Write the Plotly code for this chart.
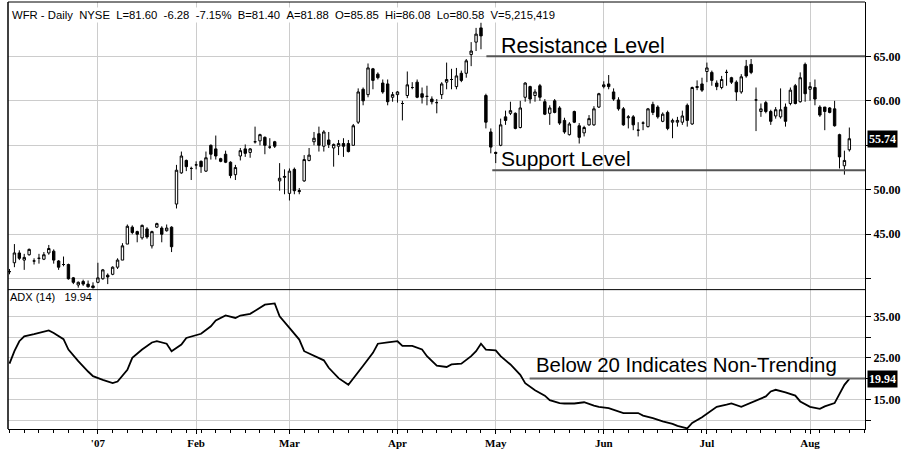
import plotly.graph_objects as go

# ---------------- data ----------------
opens = [40.8, 41.8, 42.9, 42.1, 42.7, 42.0, 42.3, 42.2, 42.9, 43.1, 42.0, 41.6, 41.6, 40.1, 39.3, 39.7, 39.4, 39.2,
         39.6, 40.0, 40.4, 40.5, 41.3, 42.1, 43.9, 45.8, 45.3, 44.6, 45.6, 43.7, 45.8, 45.7, 45.4, 45.8, 48.4, 51.9,
         53.3, 52.4, 52.8, 53.2, 52.1, 55.0, 54.6, 53.5, 54.0, 53.1, 51.7, 53.8, 54.6, 54.2, 55.4, 55.5, 55.9, 54.8,
         55.4, 51.0, 51.4, 49.6, 52.3, 49.8, 51.0, 53.3, 55.4, 56.3, 54.9, 55.6, 54.7, 54.9, 55.2, 55.2, 55.0, 57.6,
         61.3, 60.7, 63.6, 63.0, 62.0, 61.9, 60.4, 60.7, 59.7, 60.6, 61.5, 62.1, 60.8, 60.5, 60.2, 59.8, 60.7, 62.1,
         62.4, 61.6, 63.1, 63.1, 65.2, 66.6, 68.2, 60.6, 56.5, 54.2, 55.0, 58.2, 58.6, 58.6, 57.0, 60.4, 61.6, 60.6,
         61.7, 59.9, 58.6, 60.0, 59.2, 57.8, 56.2, 58.8, 57.2, 56.4, 57.3, 57.3, 59.3, 61.6, 61.9, 61.0, 60.1, 59.1,
         58.1, 58.2, 56.7, 57.5, 57.1, 59.6, 59.3, 57.7, 58.7, 57.6, 57.6, 57.6, 59.5, 57.4, 61.5, 61.9, 63.3, 63.2,
         62.0, 61.5, 63.2, 62.6, 62.1, 61.0, 63.9, 64.1, 60.1, 58.8, 59.8, 58.8, 58.3, 58.2, 59.3, 59.7, 61.7, 59.9,
         64.1, 61.3, 61.5, 59.3, 59.3, 59.2, 59.1, 56.2, 52.7, 54.5]
highs = [41.1, 43.9, 43.2, 42.8, 43.4, 42.3, 42.8, 43.0, 43.8, 43.3, 42.1, 42.5, 41.7, 40.2, 39.7, 39.9, 39.8, 39.6,
         41.8, 41.1, 40.6, 41.4, 42.3, 44.0, 46.1, 46.0, 45.4, 46.1, 45.8, 45.4, 46.3, 45.9, 46.1, 45.9, 52.8, 54.3,
         53.4, 52.6, 53.2, 53.3, 54.3, 55.1, 56.1, 53.6, 54.4, 53.2, 52.8, 54.7, 55.1, 54.7, 57.1, 56.3, 56.0, 55.8,
         55.5, 53.0, 52.3, 52.4, 52.5, 50.2, 53.9, 54.7, 56.5, 57.1, 56.7, 56.5, 55.2, 55.6, 55.8, 55.6, 57.4, 61.4,
         61.5, 64.2, 63.7, 63.2, 62.4, 62.4, 61.0, 61.1, 60.0, 63.3, 62.1, 62.4, 61.5, 61.7, 60.5, 60.2, 62.1, 64.3,
         63.6, 63.7, 63.4, 64.7, 66.6, 68.2, 68.8, 60.8, 56.9, 54.3, 58.0, 58.9, 59.9, 58.7, 60.0, 62.1, 61.7, 61.3,
         61.9, 60.2, 59.5, 60.2, 59.4, 58.1, 57.6, 58.9, 57.5, 57.2, 58.4, 59.4, 60.9, 62.2, 62.9, 61.4, 60.4, 59.3,
         58.4, 58.4, 57.6, 57.7, 59.2, 59.9, 59.5, 58.7, 58.9, 58.0, 58.2, 58.9, 59.7, 61.6, 62.3, 62.6, 64.3, 63.4,
         62.3, 62.8, 63.5, 62.7, 62.3, 63.0, 64.6, 64.7, 61.5, 59.7, 60.0, 59.0, 59.3, 61.4, 59.7, 61.5, 61.9, 63.2,
         64.3, 62.1, 62.4, 59.5, 59.3, 59.3, 60.0, 56.3, 54.4, 57.0]
lows = [40.5, 41.3, 42.1, 41.0, 42.6, 41.6, 41.7, 42.1, 42.7, 41.7, 41.0, 41.4, 39.9, 39.4, 39.0, 39.2, 39.0, 38.9,
        39.5, 39.9, 39.4, 40.4, 41.1, 42.1, 43.9, 45.0, 44.1, 44.4, 44.5, 43.4, 45.7, 44.1, 45.3, 43.0, 47.9, 51.8,
        52.1, 51.1, 52.3, 51.9, 52.0, 53.4, 53.4, 53.1, 53.0, 51.3, 51.1, 53.3, 53.7, 53.6, 55.2, 55.0, 54.0, 54.6,
        54.7, 49.9, 49.5, 48.8, 49.5, 49.5, 50.9, 53.2, 55.0, 54.3, 54.3, 54.7, 52.6, 53.9, 53.7, 54.2, 55.0, 57.4,
        59.5, 60.4, 61.3, 62.4, 60.8, 59.5, 59.9, 59.8, 57.8, 60.3, 61.3, 60.3, 59.7, 59.5, 59.6, 58.6, 60.2, 61.3,
        61.3, 61.3, 62.1, 62.6, 63.9, 65.6, 65.8, 56.9, 54.1, 53.0, 54.9, 57.3, 58.4, 56.8, 56.9, 59.9, 59.7, 59.9,
        60.0, 58.4, 57.3, 58.6, 57.3, 56.3, 56.1, 57.5, 55.2, 56.0, 57.2, 57.2, 59.2, 61.4, 61.3, 60.0, 58.9, 57.2,
        56.9, 56.7, 56.0, 56.7, 57.0, 58.4, 58.0, 57.6, 56.7, 55.8, 57.1, 57.3, 57.1, 57.3, 61.2, 61.0, 62.1, 61.7,
        61.2, 61.3, 61.7, 61.9, 60.0, 60.8, 62.6, 63.0, 56.6, 58.2, 58.6, 57.3, 58.0, 58.0, 57.1, 59.5, 59.6, 59.8,
        59.9, 60.0, 59.5, 58.2, 56.7, 58.6, 57.1, 52.4, 51.7, 54.3]
closes = [40.8, 42.9, 42.3, 42.4, 43.3, 42.0, 42.3, 42.7, 43.4, 42.1, 41.3, 41.6, 40.0, 39.6, 39.6, 39.4, 39.1, 39.0,
          40.1, 41.0, 40.2, 41.3, 42.1, 43.7, 45.9, 45.2, 45.0, 46.0, 44.7, 45.3, 46.2, 45.0, 45.7, 43.6, 52.2, 53.8,
          52.6, 52.4, 52.8, 52.6, 53.6, 54.0, 53.8, 53.2, 53.1, 51.6, 52.5, 54.4, 54.1, 54.6, 55.4, 56.2, 55.0, 54.8,
          54.9, 51.3, 51.5, 52.1, 49.9, 49.9, 53.4, 53.9, 55.8, 55.0, 56.5, 55.1, 55.1, 55.2, 54.9, 54.3, 57.2, 61.0,
          60.0, 63.7, 62.3, 62.6, 61.0, 59.9, 60.7, 61.0, 59.7, 61.8, 61.5, 60.4, 60.4, 60.5, 59.9, 59.8, 61.9, 62.4,
          62.4, 62.8, 62.3, 64.5, 65.6, 67.5, 67.3, 57.6, 54.8, 54.1, 57.3, 57.8, 58.9, 56.9, 59.2, 62.0, 60.2, 61.0,
          60.4, 58.5, 59.2, 58.7, 57.5, 56.5, 57.4, 57.6, 55.9, 57.0, 58.0, 59.1, 60.8, 61.8, 61.6, 60.2, 59.1, 57.3,
          58.2, 57.3, 56.7, 57.5, 59.1, 58.7, 58.2, 58.5, 56.9, 57.8, 57.8, 58.3, 57.8, 61.5, 61.6, 61.2, 63.7, 62.3,
          61.6, 62.4, 63.2, 62.1, 61.0, 62.7, 62.8, 63.2, 60.1, 59.1, 58.8, 57.7, 59.0, 59.0, 57.7, 61.2, 59.7, 62.6,
          60.8, 61.6, 60.2, 58.4, 58.8, 58.7, 57.2, 53.7, 53.3, 55.74]
day_index = list(range(len(closes)))

adx_day = [0, 1, 2, 3, 5, 6, 8, 9, 11, 12, 14, 16, 17, 19, 21, 22, 24, 25, 27, 29, 30, 32, 33, 35, 36, 39, 41, 42,
           44, 46, 47, 49, 51, 52, 54, 55, 57, 59, 60, 62, 64, 65, 67, 69, 70, 72, 74, 75, 77, 79, 80, 82, 84, 85,
           87, 89, 90, 92, 94, 95, 96, 97, 99, 100, 102, 104, 105, 107, 109, 110, 112, 113, 115, 117, 119, 120, 122,
           124, 125, 128, 129, 131, 133, 135, 136, 138, 139, 141, 143, 144, 146, 147, 149, 150, 152, 154, 155, 156,
           158, 160, 161, 163, 165, 166, 168, 169, 170, 171]
adx_value = [23.6, 26.6, 29.0, 30.2, 30.7, 31.0, 31.6, 31.0, 29.5, 27.0, 24.2, 21.7, 20.6, 19.7, 18.9, 19.3, 22.1,
             25.0, 27.0, 28.7, 29.0, 28.4, 26.6, 28.2, 29.8, 30.8, 32.6, 34.0, 35.2, 34.6, 35.2, 35.6, 37.0, 37.8,
             38.1, 35.0, 32.2, 29.4, 26.6, 25.4, 24.4, 22.6, 20.1, 18.5, 20.1, 23.1, 26.2, 28.4, 28.7, 29.0, 27.9,
             27.9, 27.0, 25.4, 23.1, 22.8, 23.4, 23.6, 25.4, 26.6, 28.4, 27.0, 26.8, 25.4, 23.4, 20.9, 18.9, 17.2,
             15.9, 14.8, 14.1, 14.0, 14.0, 14.3, 13.5, 13.2, 12.9, 12.1, 11.7, 11.7, 11.1, 10.5, 9.7, 9.1, 8.6, 8.0,
             9.3, 10.7, 12.5, 13.2, 13.7, 14.0, 13.2, 13.7, 14.8, 15.7, 16.9, 17.3, 16.7, 15.9, 14.5, 13.2, 12.7,
             13.3, 14.1, 16.5, 18.5, 19.94]

month_index = [18, 38, 57, 79, 99, 121, 142, 163]
month_labels = ["'07", "Feb", "Mar", "Apr", "May", "Jun", "Jul", "Aug"]

price_ticks = [40, 45, 50, 55, 60, 65]
price_tick_text = ["", "45.00", "50.00", "", "60.00", "65.00"]
adx_ticks = [10, 15, 20, 25, 30, 35]
adx_tick_text = ["", "15.00", "", "25.00", "", "35.00"]

resistance_level = 65.0
support_level = 52.2
adx_threshold = 20.0
last_close = 55.74
last_adx = 19.94

header = ("WFR - Daily  NYSE  L=81.60  -6.28  -7.15%  B=81.40  A=81.88  O=85.85  "
          "Hi=86.08  Lo=80.58  V=5,215,419").replace(" ", "\u00a0")

# ---------------- figure ----------------
W, H = 902, 451
ML, MR, MT, MB = 8, 36, 2, 17
split = 141 / 432
XR = [-0.305, 174.19]
GRID = "#cccccc"

fig = go.Figure()
fig.add_trace(go.Candlestick(
    x=day_index, open=opens, high=highs, low=lows, close=closes,
    xaxis="x", yaxis="y", whiskerwidth=0,
    increasing=dict(line=dict(color="black", width=1), fillcolor="white"),
    decreasing=dict(line=dict(color="black", width=1), fillcolor="black"),
    showlegend=False, hoverinfo="skip"))
fig.add_trace(go.Scatter(
    x=adx_day, y=adx_value, xaxis="x2", yaxis="y2", mode="lines",
    line=dict(color="black", width=1.8), showlegend=False, hoverinfo="skip"))

serif = "Liberation Serif, Times New Roman, serif"
sans = "Liberation Sans, Arial, sans-serif"

fig.update_layout(
    width=W, height=H, margin=dict(l=ML, r=MR, t=MT, b=MB),
    paper_bgcolor="white", plot_bgcolor="white", showlegend=False,
    xaxis=dict(domain=[0, 1], anchor="y", range=XR, rangeslider=dict(visible=False),
               tickvals=month_index, showticklabels=False, ticks="",
               showgrid=True, gridcolor=GRID, gridwidth=1, zeroline=False, showline=False),
    yaxis=dict(domain=[split, 1], anchor="x", range=[38.778, 71.111], side="right",
               tickvals=price_ticks, ticktext=price_tick_text, ticks="outside", ticklen=5,
               tickcolor="black", tickfont=dict(family=serif, size=12, color="black", weight="bold"),
               showgrid=True, gridcolor=GRID, zeroline=False, showline=True, linecolor="black",
               linewidth=1),
    xaxis2=dict(domain=[0, 1], anchor="y2", range=XR, tickvals=month_index, ticktext=month_labels,
                ticks="outside", ticklen=4, tickcolor="black",
                tickfont=dict(family=serif, size=11, color="black", weight="bold"),
                minor=dict(ticks="outside", ticklen=3, tickcolor="black", dtick=3, tick0=0, showgrid=False),
                showgrid=True, gridcolor=GRID, zeroline=False, showline=True, linecolor="black"),
    yaxis2=dict(domain=[0, split], anchor="x2", range=[7.857, 41.429], side="right",
                tickvals=adx_ticks, ticktext=adx_tick_text, ticks="outside", ticklen=5,
                tickcolor="black", tickfont=dict(family=serif, size=12, color="black", weight="bold"),
                showgrid=True, gridcolor=GRID, zeroline=False, showline=True, linecolor="black"),
)

def px_x(p):
    return (p - ML) / (W - ML - MR)

def px_y(p):
    return (H - MB - p) / (H - MT - MB)

shapes = [
    dict(type="line", xref="paper", yref="paper", x0=0, x1=0, y0=0, y1=1, line=dict(color="black", width=1.5)),
    dict(type="line", xref="paper", yref="paper", x0=0, x1=1, y0=1, y1=1, line=dict(color="black", width=1)),
    dict(type="line", xref="paper", yref="paper", x0=0, x1=1, y0=split, y1=split, line=dict(color="black", width=1)),
    dict(type="line", xref="x", yref="y", x0=97.1, x1=XR[1], y0=resistance_level, y1=resistance_level,
         line=dict(color="#555555", width=2)),
    dict(type="line", xref="x", yref="y", x0=98.3, x1=XR[1], y0=support_level, y1=support_level,
         line=dict(color="#555555", width=2)),
    dict(type="line", xref="x2", yref="y2", x0=105.9, x1=XR[1], y0=adx_threshold, y1=adx_threshold,
         line=dict(color="#666666", width=2)),
]
fig.update_layout(shapes=shapes)

ann = [
    dict(text=header, xref="paper", yref="paper", x=px_x(10), y=px_y(15), xanchor="left", yanchor="middle",
         showarrow=False, font=dict(family=sans, size=11.3, color="black"), bgcolor="white", borderpad=1),
    dict(text="ADX\u00a0(14)\u00a0\u00a0\u00a019.94", xref="paper", yref="paper", x=px_x(9), y=px_y(300),
         xanchor="left", yanchor="middle", showarrow=False,
         font=dict(family=sans, size=11, color="black"), bgcolor="white", borderpad=0),
    dict(text="Resistance Level", xref="paper", yref="paper", x=px_x(500), y=px_y(47), xanchor="left",
         yanchor="middle", showarrow=False, font=dict(family=sans, size=21.5, color="black")),
    dict(text="Support Level", xref="paper", yref="paper", x=px_x(500), y=px_y(160), xanchor="left",
         yanchor="middle", showarrow=False, font=dict(family=sans, size=21, color="black")),
    dict(text="Below 20 Indicates Non-Trending", xref="paper", yref="paper", x=px_x(535), y=px_y(369),
         xanchor="left", yanchor="middle", showarrow=False, font=dict(family=sans, size=20.4, color="black")),
    dict(text="<b>%.2f</b>" % last_close, xref="paper", yref="y", x=1, y=last_close, xanchor="left",
         yanchor="middle", xshift=2, showarrow=False, bgcolor="black", borderpad=1,
         font=dict(family=serif, size=12, color="white")),
    dict(text="<b>%.2f</b>" % last_adx, xref="paper", yref="y2", x=1, y=last_adx, xanchor="left",
         yanchor="middle", xshift=2, showarrow=False, bgcolor="black", borderpad=1,
         font=dict(family=serif, size=12, color="white")),
]
fig.update_layout(annotations=ann)

fig.write_html("out.html", config={"displayModeBar": False},
               post_script="document.body.style.margin='0px';")
